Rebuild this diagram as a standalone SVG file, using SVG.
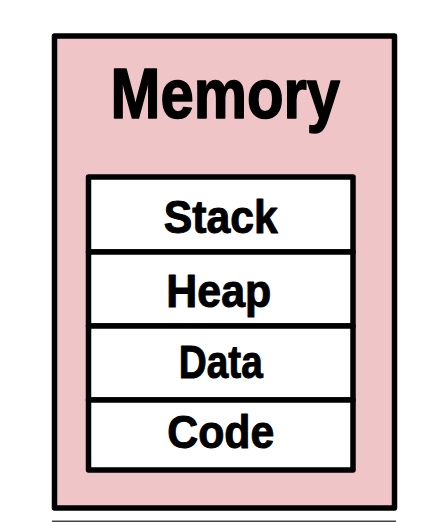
<svg xmlns="http://www.w3.org/2000/svg" width="422" height="522" viewBox="0 0 422 522">
<style>
.box{stroke:#000;stroke-width:5.5;stroke-linejoin:round}
.t{font-family:"Liberation Sans",Arial,sans-serif;font-weight:bold;fill:#000;stroke:#000;stroke-linejoin:round;text-anchor:middle}
.seg{font-size:46.5px;stroke-width:1}
.title{font-size:70px;stroke-width:1.6}
</style>
<rect width="422" height="522" fill="#fff"/>
<g id="memory">
<rect class="box" x="54.5" y="36" width="340" height="472" fill="#f0c5c8"/>
<text class="t title" x="225.3" y="117.5" textLength="229.5" lengthAdjust="spacingAndGlyphs">Memory</text>
</g>
<g id="stack">
<rect class="box" x="88.5" y="177" width="264.5" height="75" fill="#fff"/>
<text class="t seg" x="220.8" y="233" textLength="114" lengthAdjust="spacingAndGlyphs">Stack</text>
</g>
<g id="heap">
<rect class="box" x="88.5" y="252" width="264.5" height="74" fill="#fff"/>
<text class="t seg" x="218.8" y="307.3" textLength="105" lengthAdjust="spacingAndGlyphs">Heap</text>
</g>
<g id="data">
<rect class="box" x="88.5" y="326" width="264.5" height="74" fill="#fff"/>
<text class="t seg" x="220.7" y="378" textLength="84" lengthAdjust="spacingAndGlyphs">Data</text>
</g>
<g id="code">
<rect class="box" x="88.5" y="400" width="264.5" height="70" fill="#fff"/>
<text class="t seg" x="220.8" y="448" textLength="107" lengthAdjust="spacingAndGlyphs">Code</text>
</g>
<g id="connectors"></g>
<line x1="52" y1="521.2" x2="396" y2="521.2" stroke="#444" stroke-width="1.6"/>
</svg>
